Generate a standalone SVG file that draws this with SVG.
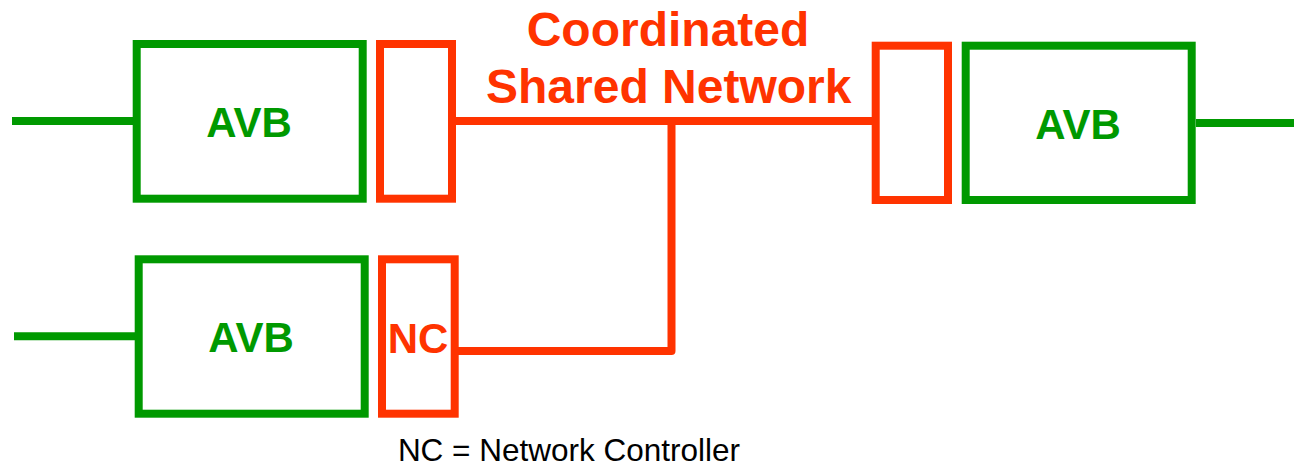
<svg xmlns="http://www.w3.org/2000/svg" width="1294" height="468" viewBox="0 0 1294 468">
<style>
.g{fill:none;stroke:#009900;stroke-width:8}
.o{fill:none;stroke:#FF3300;stroke-width:8}
.gt{fill:#009900;font-family:"Liberation Sans",Arial,sans-serif;font-weight:bold;font-size:42px;text-anchor:middle}
.ot{fill:#FF3300;font-family:"Liberation Sans",Arial,sans-serif;font-weight:bold;text-anchor:middle}
.cap{fill:#000;font-family:"Liberation Sans",Arial,sans-serif;font-size:31.5px;text-anchor:middle}
</style>
<rect width="1294" height="468" fill="#fff"/>
<g id="connectors">
<line class="g" x1="12" y1="121" x2="133" y2="121"/>
<line class="g" x1="14" y1="336.3" x2="135" y2="336.3"/>
<line class="g" x1="1196" y1="123" x2="1294" y2="123"/>
<line class="o" x1="456" y1="121" x2="872" y2="121"/>
<polyline class="o" points="458,351 671.5,351 671.5,121" stroke-linejoin="round"/>
</g>
<g id="avb1">
<rect class="g" x="136.7" y="44" width="226" height="154.7"/>
<text class="gt" x="249" y="137.3">AVB</text>
</g>
<g id="port1">
<rect class="o" x="380" y="44" width="72" height="154.7"/>
</g>
<g id="avb2">
<rect class="g" x="138.7" y="259.3" width="226" height="154.4"/>
<text class="gt" x="251" y="352.3">AVB</text>
</g>
<g id="nc">
<rect class="o" x="382" y="259.3" width="72.7" height="154.4"/>
<text class="ot" x="418" y="353.3" font-size="42">NC</text>
</g>
<g id="port3">
<rect class="o" x="875.7" y="45.7" width="72.3" height="154.3"/>
</g>
<g id="avb3">
<rect class="g" x="965.7" y="45.7" width="226" height="154.3"/>
<text class="gt" x="1078" y="139.3">AVB</text>
</g>
<g id="network-label">
<text class="ot" font-size="48" x="668" y="46">Coordinated</text>
<text class="ot" font-size="48" x="668.7" y="103.3">Shared Network</text>
</g>
<g id="caption">
<text class="cap" x="569" y="461">NC = Network Controller</text>
</g>
</svg>
